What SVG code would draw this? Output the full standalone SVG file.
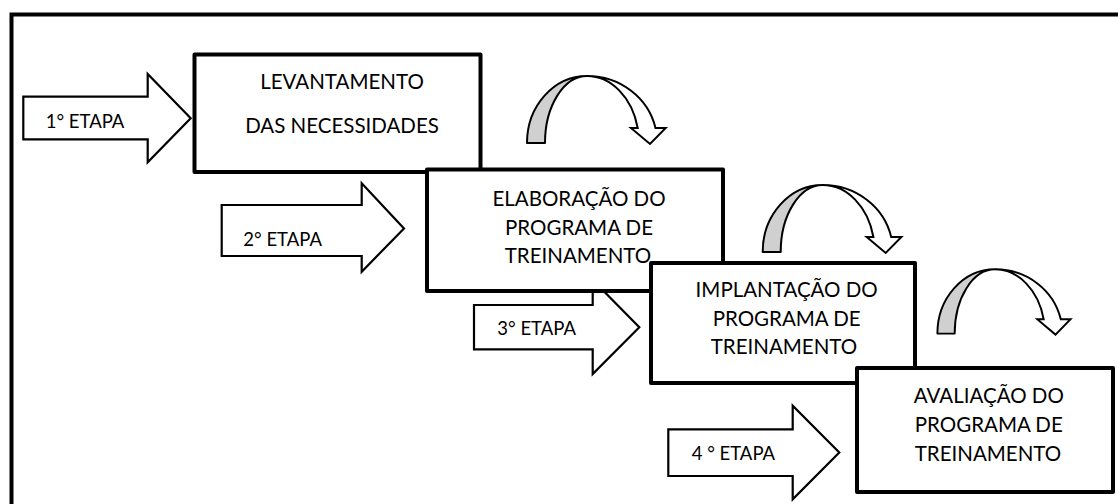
<svg xmlns="http://www.w3.org/2000/svg" width="1118" height="504" viewBox="0 0 1118 504">
<style>
.frame{fill:#fff;stroke:#000;stroke-width:4}
.box{fill:#fff;stroke:#000;stroke-width:4;stroke-linejoin:round}
.blk{fill:#fff;stroke:#000;stroke-width:2.2;stroke-linejoin:miter}
.bt{font-family:Lato,"Liberation Sans",sans-serif;font-size:20.5px;fill:#000;text-anchor:middle}
.lt{font-family:Lato,"Liberation Sans",sans-serif;font-size:18.5px;fill:#000}
.cg{fill:#d0d0d0;stroke:#000;stroke-width:2;stroke-linejoin:round}
.cw{fill:#fff;stroke:#000;stroke-width:2;stroke-linejoin:miter}
</style>
<defs>
<g id="curve">
<path class="cg" d="M-60,67 A60,67 0 0 1 0,0 A42,67 0 0 0 -42,67 Z"/>
<path class="cw" d="M0,0 A70,67 0 0 1 68.5,52 L78.7,52 L63,68 L44,52 L50.7,52 A52,67 0 0 0 0,0 Z"/>
</g>
</defs>
<rect x="0" y="0" width="1118" height="504" fill="#fff"/>
<rect class="frame" x="11.5" y="14.5" width="1120" height="500"/>

<g id="step1">
<polygon class="blk" points="23.3,96.7 147.7,96.7 147.7,74 190.7,118.2 147.7,162.3 147.7,139.3 23.3,139.3"/>
<text class="lt" x="45.7" y="127.7">1° ETAPA</text>
</g>
<g id="node1">
<rect class="box" x="194.5" y="54.5" width="286" height="117.5"/>
<text class="bt" x="342" y="89">LEVANTAMENTO</text>
<text class="bt" x="342" y="132.7">DAS NECESSIDADES</text>
</g>
<g id="step2">
<polygon class="blk" points="221.7,205 361.7,205 361.7,183.3 404,228.5 361.7,271.7 361.7,256 221.7,256"/>
<text class="lt" x="243.3" y="246">2° ETAPA</text>
</g>
<g id="step3">
<polygon class="blk" points="474,305 592.7,305 592.7,280 639.3,327.2 592.7,374 592.7,349.3 474,349.3"/>
<text class="lt" x="497.3" y="335">3° ETAPA</text>
</g>
<g id="node2">
<rect class="box" x="427" y="169.5" width="296" height="121.5"/>
<text class="bt" x="579" y="206">ELABORAÇÃO DO</text>
<text class="bt" x="579" y="235">PROGRAMA DE</text>
<text class="bt" x="578" y="263.3">TREINAMENTO</text>
</g>
<g id="node3">
<rect class="box" x="651" y="263" width="264" height="120"/>
<text class="bt" x="786.7" y="297.3">IMPLANTAÇÃO DO</text>
<text class="bt" x="786.7" y="326">PROGRAMA DE</text>
<text class="bt" x="784" y="354.3">TREINAMENTO</text>
</g>
<g id="node4">
<rect class="box" x="857" y="368" width="256" height="124"/>
<text class="bt" x="988.8" y="403.3">AVALIAÇÃO DO</text>
<text class="bt" x="988.8" y="432.3">PROGRAMA DE</text>
<text class="bt" x="988" y="460.7">TREINAMENTO</text>
</g>
<g id="step4">
<polygon class="blk" points="668.3,429.3 792.7,429.3 792.7,405.7 839.3,452.5 792.7,499.3 792.7,476 668.3,476"/>
<text class="lt" x="691.7" y="460">4 ° ETAPA</text>
</g>

<g id="connectors">
<use href="#curve" transform="translate(587,76)"/>
<use href="#curve" transform="translate(822.7,185)"/>
<use href="#curve" transform="translate(995,269.3) scale(0.96)"/>
</g>
</svg>
